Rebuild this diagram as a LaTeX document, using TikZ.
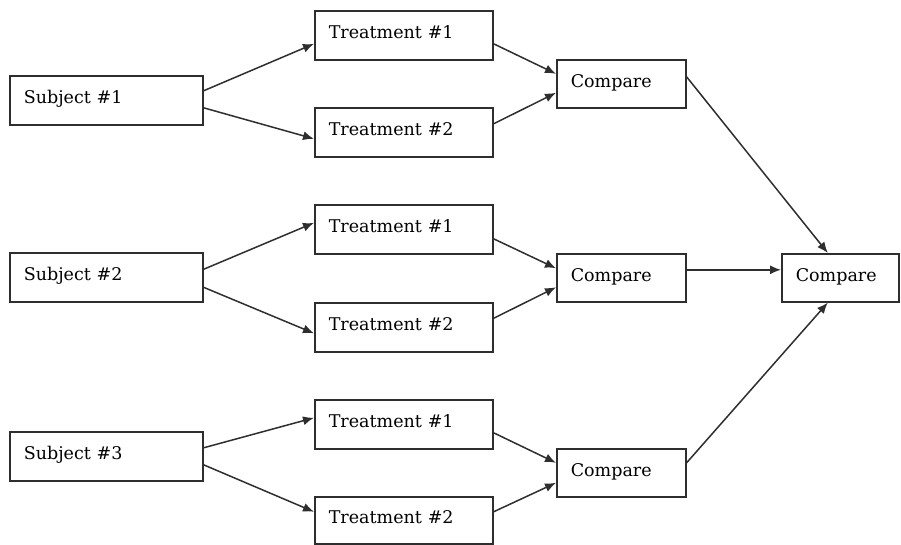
\documentclass[tikz,border=0pt]{standalone}
\usepackage{fontspec}
\setmainfont{DejaVu Serif}
\usetikzlibrary{arrows.meta}
\definecolor{edge}{HTML}{2E2E2E}
\tikzset{
  box/.style={draw=edge, line width=1.6pt, rectangle, anchor=north west,
    inner xsep=14pt, inner ysep=0pt, align=left,
    text height=12pt, text depth=5pt,
    font=\fontsize{17.5}{20}\selectfont, text=black},
  subj/.style={box, text width=165pt, minimum height=49pt},
  treat/.style={box, text width=150pt, minimum height=49pt},
  cmp/.style={box, text width=101pt, minimum height=48pt},
  fin/.style={box, text width=89pt, minimum height=48pt},
  link/.style={draw=edge, line width=1.5pt, -{Latex[length=11pt,width=9pt]}}
}
\begin{document}
\begin{tikzpicture}[x=1pt,y=-1pt]
\useasboundingbox (0,0) rectangle (901,545);

% subjects
\node[subj] (s1) at (9,75)  {Subject \#1};
\node[subj] (s2) at (9,252) {Subject \#2};
\node[subj] (s3) at (9,431) {Subject \#3};

% treatments
\node[treat] (t1a) at (314,10)  {Treatment \#1};
\node[treat] (t2a) at (314,107) {Treatment \#2};
\node[treat] (t1b) at (314,204) {Treatment \#1};
\node[treat] (t2b) at (314,302) {Treatment \#2};
\node[treat] (t1c) at (314,399) {Treatment \#1};
\node[treat, minimum height=47pt] (t2c) at (314,496) {Treatment \#2};

% comparisons
\node[cmp] (c1) at (556,59)  {Compare};
\node[cmp] (c2) at (556,253) {Compare};
\node[cmp] (c3) at (556,448) {Compare};
\node[fin] (f)  at (781,253) {Compare};

% subject -> treatment
\draw[link] ([yshift=9.5pt]s1.east) -- ([yshift=-8.5pt]t1a.west);
\draw[link] ([yshift=-7.5pt]s1.east) -- ([yshift=-6.5pt]t2a.west);
\draw[link] ([yshift=8pt]s2.east) -- ([yshift=6.5pt]t1b.west);
\draw[link] ([yshift=-10pt]s2.east) -- ([yshift=-6pt]t2b.west);
\draw[link] ([yshift=8.5pt]s3.east) -- ([yshift=6.5pt]t1c.west);
\draw[link] ([yshift=-8.5pt]s3.east) -- ([yshift=8.5pt]t2c.west);

% treatment -> compare
\draw[link] ([yshift=-8.5pt]t1a.east) -- ([yshift=10pt]c1.west);
\draw[link] ([yshift=8.5pt]t2a.east) -- ([yshift=-9pt]c1.west);
\draw[link] ([yshift=-9.5pt]t1b.east) -- ([yshift=9.5pt]c2.west);
\draw[link] ([yshift=9pt]t2b.east) -- ([yshift=-9.5pt]c2.west);
\draw[link] ([yshift=-8.5pt]t1c.east) -- ([yshift=10pt]c3.west);
\draw[link] ([yshift=8.5pt]t2c.east) -- ([yshift=-10pt]c3.west);

% compare -> final compare
\draw[link] ([yshift=7pt]c1.east) -- ([xshift=-12.5pt]f.north);
\draw[link] ([yshift=8pt]c2.east) -- ([yshift=8pt]f.west);
\draw[link] ([yshift=10pt]c3.east) -- ([xshift=-12.5pt]f.south);
\end{tikzpicture}
\end{document}
